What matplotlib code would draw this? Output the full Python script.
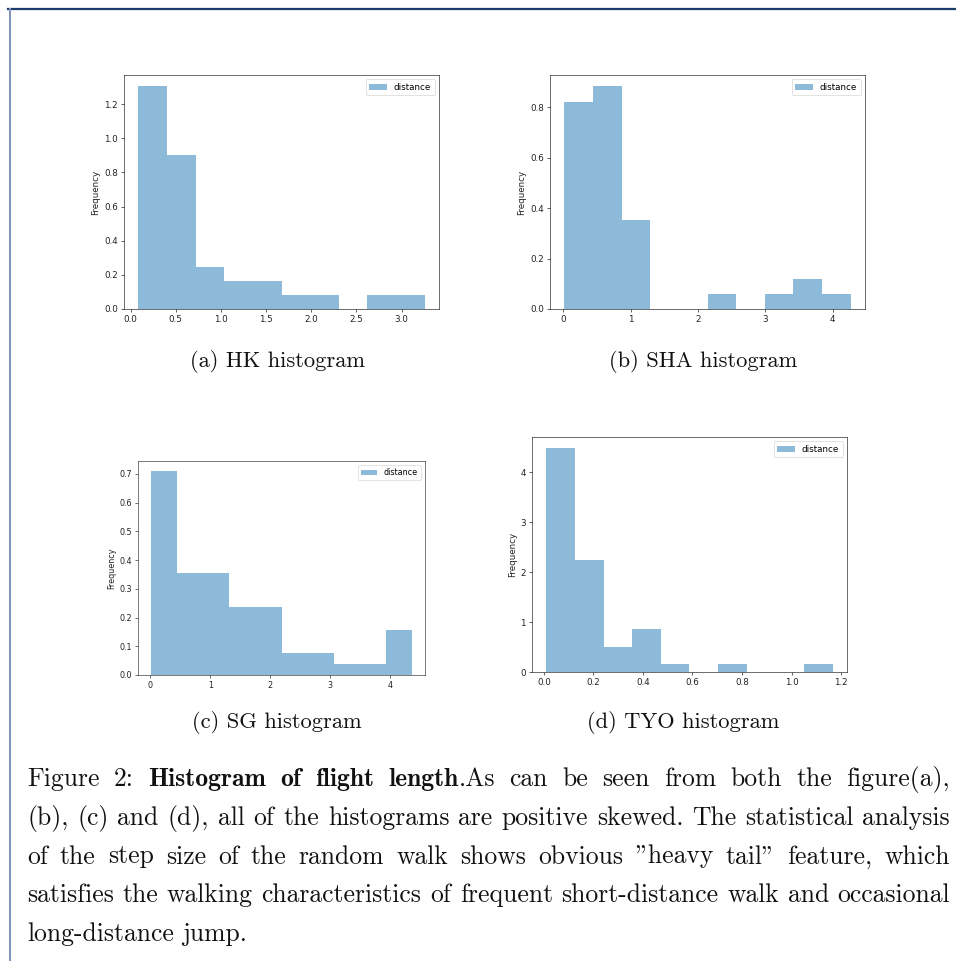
import matplotlib
matplotlib.use("Agg")
import matplotlib.pyplot as plt
import numpy as np
from matplotlib.lines import Line2D

W, H = 956, 961
DPI = 100

# ----------------------------------------------------------
# histogram data (bin edges + density)
# ----------------------------------------------------------
hk_edges = [0.085, 0.402, 0.719, 1.036, 1.353, 1.670, 1.987, 2.304, 2.621, 2.938, 3.255]
hk_density = [1.305, 0.899, 0.245, 0.163, 0.163, 0.082, 0.082, 0.0, 0.082, 0.082]

sha_edges = [0.015, 0.441, 0.866, 1.292, 1.717, 2.143, 2.568, 2.994, 3.419, 3.845, 4.270]
sha_density = [0.822, 0.883, 0.354, 0.0, 0.0, 0.058, 0.0, 0.058, 0.118, 0.058]

sg_edges = [0.011, 0.447, 0.883, 1.319, 1.755, 2.191, 2.626, 3.062, 3.498, 3.934, 4.370]
sg_density = [0.709, 0.354, 0.354, 0.235, 0.235, 0.078, 0.078, 0.039, 0.039, 0.157]

tyo_edges = [0.010, 0.125, 0.241, 0.357, 0.472, 0.588, 0.704, 0.819, 0.935, 1.051, 1.166]
tyo_density = [4.48, 2.25, 0.508, 0.856, 0.167, 0.0, 0.167, 0.0, 0.0, 0.167]

sub_captions = ["(a) HK histogram", "(b) SHA histogram", "(c) SG histogram", "(d) TYO histogram"]

# caption lines: each word is a list of (text, bold) pieces
caption_lines = [
    [[("Figure", False)], [("2:", False)], [("Histogram", True)], [("of", True)],
     [("flight", True)], [("length", True), (".As", False)], [("can", False)], [("be", False)],
     [("seen", False)], [("from", False)], [("both", False)], [("the", False)],
     [("figure(a),", False)]],
    "(b), (c) and (d), all of the histograms are positive skewed. The statistical analysis",
    'of the step size of the random walk shows obvious "heavy tail" feature, which',
    "satisfies the walking characteristics of frequent short-distance walk and occasional",
    "long-distance jump.",
]

fig = plt.figure(figsize=(W / DPI, H / DPI), dpi=DPI)
fig.patch.set_facecolor("white")


def px_rect(x0, y0, x1, y1):
    return [x0 / W, 1 - y1 / H, (x1 - x0) / W, (y1 - y0) / H]


def draw_hist(rect, edges, density):
    ax = fig.add_axes(px_rect(*rect))
    # scale of the original 6.4x4.8in pandas figure shrunk into this box
    s = (rect[2] - rect[0]) / 357.0 * 0.72
    edges = np.asarray(edges)
    ax.bar(edges[:-1], density, width=np.diff(edges), align="edge",
           color="C0", alpha=0.5, linewidth=0, label="distance")
    ax.set_ylabel("Frequency", fontsize=10 * s, color="#222222", labelpad=4 * s)
    ax.tick_params(labelsize=10 * s, length=3.5 * s, width=0.8 * s,
                   pad=3.5 * s, colors="#222222")
    for sp in ax.spines.values():
        sp.set_linewidth(0.8 * s)
        sp.set_color("#333333")
    leg = ax.legend(loc="upper right", fontsize=10 * s, borderpad=0.4,
                    handlelength=2.0, borderaxespad=0.5)
    leg.get_frame().set_linewidth(0.8 * s)
    return ax


draw_hist((124, 75, 439, 309), hk_edges, hk_density)
draw_hist((550, 75, 865, 309), sha_edges, sha_density)
draw_hist((138, 461, 425, 675), sg_edges, sg_density)
draw_hist((532, 437, 847, 672), tyo_edges, tyo_density)

# sub captions
sub_pos = [(277, 367), (703, 367), (277, 728), (683, 728)]
for (cx, cy), txt in zip(sub_pos, sub_captions):
    fig.text(cx / W, 1 - cy / H, txt, family="cmr10", fontsize=16.2,
             ha="center", va="baseline", color="#111111")

# ----------------------------------------------------------
# justified caption
# ----------------------------------------------------------
renderer = fig.canvas.get_renderer()
left_px, right_px = 27, 950
base0, step = 786, 38.75


def to_words(line):
    if isinstance(line, str):
        return [[(w, False)] for w in line.split(" ")]
    return line


def measure(txt, bold, size):
    t = fig.text(0, 0, txt, family="cmb10" if bold else "cmr10", fontsize=size)
    w = t.get_window_extent(renderer).width
    t.remove()
    return w


# pick the size at which the widest full line fits the text block
probe = 14.0
space_probe = measure("a a", False, probe) - 2 * measure("a", False, probe)
natural = max(
    sum(measure(txt, b, probe) for word in to_words(ln) for txt, b in word)
    + space_probe * (len(to_words(ln)) - 1)
    for ln in caption_lines[:-1]
)
cap_size = probe * (right_px - left_px) / natural * 0.995
space_w = space_probe * cap_size / probe

for i, line in enumerate(caption_lines):
    words = to_words(line)
    y = 1 - (base0 + i * step) / H
    items = []
    for word in words:
        pieces = []
        for txt, bold in word:
            t = fig.text(0, y, txt, family="cmb10" if bold else "cmr10",
                         fontsize=cap_size, va="baseline", ha="left", color="#111111")
            pieces.append((t, t.get_window_extent(renderer).width))
        items.append(pieces)
    widths = [sum(w for _, w in p) for p in items]
    if i == len(caption_lines) - 1:
        gap = space_w
    else:
        gap = (right_px - left_px - sum(widths)) / (len(items) - 1)
    x = left_px
    for pieces, w in zip(items, widths):
        xx = x
        for t, pw in pieces:
            t.set_x(xx / W)
            xx += pw
        x += w + gap

# page frame lines
fig.add_artist(Line2D([8 / W, 1], [1 - 8.5 / H, 1 - 8.5 / H], transform=fig.transFigure,
                      color="#1b3d6e", linewidth=1.6))
fig.add_artist(Line2D([9.5 / W, 9.5 / W], [0, 1 - 8.5 / H], transform=fig.transFigure,
                      color="#8596bb", linewidth=1.5))

fig.savefig("out.png", dpi=DPI, facecolor="white")
